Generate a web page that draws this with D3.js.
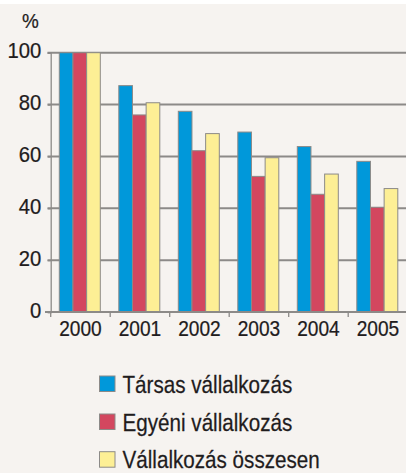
<!DOCTYPE html>
<html>
<head>
<meta charset="utf-8">
<script src="https://cdn.jsdelivr.net/npm/d3@7"></script>
<style>
  body { margin: 0; background: #ffffff; }
  svg { display: block; }
  text { font-family: "Liberation Sans", Arial, sans-serif; fill: #1f1c1d; stroke: #1f1c1d; stroke-width: 0.25; }
</style>
</head>
<body>
<svg id="chart" width="406" height="473"></svg>
<script>
var years = ["2000", "2001", "2002", "2003", "2004", "2005"];
var seriesNames = ["Társas vállalkozás", "Egyéni vállalkozás", "Vállalkozás összesen"];
var tarsas = [100, 87.3, 77.4, 69.4, 63.8, 58.1];
var egyeni = [100, 76.0, 62.2, 52.3, 45.4, 40.4];
var osszesen = [100, 80.7, 68.8, 59.5, 53.2, 47.6];
var yTicks = [0, 20, 40, 60, 80, 100];
var colors = ["#0098da", "#d3475f", "#fdef95"];

var svg = d3.select("#chart");

// background
svg.append("rect").attr("x", 0).attr("y", 0).attr("width", 406).attr("height", 473).attr("fill", "#ffffff");
svg.append("rect").attr("x", 0).attr("y", 4).attr("width", 406).attr("height", 469).attr("fill", "#f6f3f0");

var x0 = d3.scaleBand().domain(years).range([50.7, 407.7]);
var x1 = d3.scaleBand().domain(seriesNames).range([8.6, 49.6]);
var y = d3.scaleLinear().domain([0, 100]).range([312, 52.7]);

// gridlines
svg.append("g")
  .selectAll("line")
  .data(yTicks.filter(function(d) { return d > 0; }))
  .enter()
  .append("line")
  .attr("x1", 47.5)
  .attr("x2", 406)
  .attr("y1", function(d) { return y(d); })
  .attr("y2", function(d) { return y(d); })
  .attr("stroke", "#8c8a88")
  .attr("stroke-width", 2);

// y axis
var yAxis = d3.axisLeft(y).tickValues(yTicks).tickSize(3);
var gy = svg.append("g").attr("transform", "translate(50.7,0)").call(yAxis);
gy.select(".domain").attr("stroke", "#8c8a88").attr("stroke-width", 1.3);
gy.selectAll(".tick line").attr("stroke", "#8c8a88").attr("stroke-width", 1.3);
gy.selectAll(".tick text")
  .attr("x", 0)
  .attr("dy", 0)
  .attr("transform", "translate(-9.5,5) scale(0.9,1)")
  .attr("font-size", 22.5)
  .attr("fill", "#1f1c1d")
  .style("font-family", "'Liberation Sans', Arial, sans-serif");

svg.append("text")
  .attr("transform", "translate(22,28) scale(0.9,1)")
  .attr("font-size", 21)
  .text("%");

// bars
var table = years.map(function(yr, i) {
  return { year: yr, values: [tarsas[i], egyeni[i], osszesen[i]] };
});

var groups = svg.append("g")
  .selectAll("g")
  .data(table)
  .enter()
  .append("g")
  .attr("transform", function(d) { return "translate(" + x0(d.year) + ",0)"; });

groups.selectAll("rect")
  .data(function(d) { return d.values.map(function(v, j) { return { name: seriesNames[j], value: v, idx: j }; }); })
  .enter()
  .append("rect")
  .attr("x", function(d) { return x1(d.name); })
  .attr("y", function(d) { return y(d.value); })
  .attr("width", x1.bandwidth())
  .attr("height", function(d) { return y(0) - y(d.value); })
  .attr("fill", function(d) { return colors[d.idx]; })
  .attr("stroke", "#8c8a88")
  .attr("stroke-width", 1);

// x axis
var xAxis = d3.axisBottom(x0).tickSize(0).tickFormat(function(d) { return d; });
var gx = svg.append("g").attr("transform", "translate(0,312)").call(xAxis);
gx.select(".domain").remove();
gx.selectAll(".tick text")
  .attr("y", 0)
  .attr("dy", 0)
  .attr("transform", "translate(0,23.5) scale(0.85,1)")
  .attr("font-size", 22.5)
  .attr("fill", "#1f1c1d")
  .style("font-family", "'Liberation Sans', Arial, sans-serif");

svg.append("line")
  .attr("x1", 45).attr("x2", 406)
  .attr("y1", y(0)).attr("y2", y(0))
  .attr("stroke", "#8c8a88").attr("stroke-width", 2);

svg.append("g")
  .selectAll("line")
  .data(years)
  .enter()
  .append("line")
  .attr("x1", function(d) { return x0(d); })
  .attr("x2", function(d) { return x0(d); })
  .attr("y1", y(0))
  .attr("y2", y(0) + 5)
  .attr("stroke", "#8c8a88")
  .attr("stroke-width", 1.3);

// legend
var legendY = [376, 414, 451.7];
var legend = svg.append("g")
  .selectAll("g")
  .data(seriesNames)
  .enter()
  .append("g")
  .attr("transform", function(d, i) { return "translate(99.5," + legendY[i] + ")"; });

legend.append("rect")
  .attr("width", 15.5)
  .attr("height", 15.5)
  .attr("fill", function(d, i) { return colors[i]; })
  .attr("stroke", "#8c8a88")
  .attr("stroke-width", 1);

legend.append("text")
  .attr("transform", "translate(23,16.5) scale(0.86,1)")
  .attr("font-size", 24)
  .text(function(d) { return d; });
</script>
</body>
</html>
